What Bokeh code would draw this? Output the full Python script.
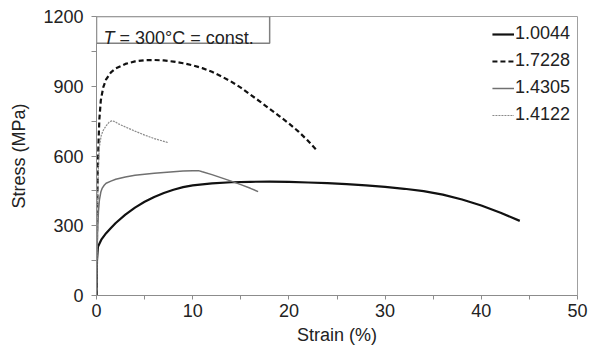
from bokeh.plotting import figure
from bokeh.models import Range1d, Legend, LegendItem, BoxAnnotation, Label, FixedTicker
from bokeh.embed import file_html
from bokeh.resources import INLINE

# ---- data ----
strain_10044 = [0, 0.05, 0.15, 0.5, 1.0, 1.5, 2.0, 3.0, 4.0, 5.0, 6.0, 7.0, 8.0, 9.0, 10, 12, 14, 16,
                18, 20, 22, 24, 26, 28, 30, 32, 34, 36, 38, 40, 42, 44]
stress_10044 = [0, 150, 210, 240, 268, 290, 312, 348, 378, 403, 424, 441, 455, 466, 474, 482, 487, 489,
                490, 489, 486, 483, 479, 474, 467, 459, 449, 434, 413, 387, 356, 321]

strain_17228 = [0, 0.05, 0.1, 0.2, 0.3, 0.45, 0.7, 1.0, 1.5, 2.0, 3.0, 4.0, 5.0, 6.0, 7.0, 8.0, 9.0,
                10, 11, 12, 13, 14, 15, 16, 17, 18, 19, 20, 21, 22, 23]
stress_17228 = [0, 250, 450, 650, 760, 840, 895, 930, 960, 977, 996, 1007, 1012, 1013, 1011, 1006, 999,
                990, 978, 962, 942, 920, 894, 864, 834, 803, 772, 740, 705, 665, 620]

strain_14305 = [0, 0.05, 0.1, 0.2, 0.3, 0.45, 0.6, 0.8, 1.0, 1.5, 2.0, 3.0, 4.0, 5.0, 6.0, 7.0, 8.0,
                9.0, 10.0, 10.6, 11.0, 12.0, 13.0, 14.0, 15.0, 16.0, 16.8]
stress_14305 = [0, 150, 260, 360, 410, 445, 462, 474, 483, 492, 500, 510, 517, 522, 526, 529, 532,
                535, 537, 537, 532, 520, 506, 492, 477, 461, 447]

strain_14122 = [0, 0.05, 0.1, 0.2, 0.3, 0.5, 0.7, 1.0, 1.3, 1.6, 1.9, 2.3, 3.0, 4.0, 5.0, 6.0, 7.0, 7.5]
stress_14122 = [0, 200, 380, 560, 640, 690, 710, 730, 745, 752, 748, 738, 725, 707, 690, 675, 663, 657]

series_names = ["1.0044", "1.7228", "1.4305", "1.4122"]
x_ticks = [0, 10, 20, 30, 40, 50]
y_ticks = [0, 300, 600, 900, 1200]

FONT = "Liberation Sans"
TXT = "#222222"
AX = "#8c8c8c"

p = figure(width=593, height=352, output_backend="svg", toolbar_location=None,
           x_range=Range1d(0, 50), y_range=Range1d(0, 1200),
           min_border_left=96, min_border_right=16, min_border_top=16, min_border_bottom=57)
p.grid.visible = False
p.outline_line_color = "#a0a0a0"
p.outline_line_width = 1
p.background_fill_color = "white"
p.border_fill_color = "white"

r1 = p.line(strain_10044, stress_10044, line_color="#111111", line_width=2.2)
r2 = p.line(strain_17228, stress_17228, line_color="#111111", line_width=2.2, line_dash="5 3")
r3 = p.line(strain_14305, stress_14305, line_color="#707070", line_width=1.5)
r4 = p.line(strain_14122, stress_14122, line_color="#8a8a8a", line_width=1.2, line_dash="2 1")

for ax in (p.xaxis[0], p.yaxis[0]):
    ax.axis_line_color = AX
    ax.major_tick_line_color = AX
    ax.minor_tick_line_color = AX
    ax.major_tick_in = 0
    ax.minor_tick_in = 0
    ax.major_label_text_font = FONT
    ax.major_label_text_font_size = "18px"
    ax.major_label_text_color = TXT
    ax.axis_label_text_font = FONT
    ax.axis_label_text_font_size = "18px"
    ax.axis_label_text_font_style = "normal"
    ax.axis_label_text_color = TXT

p.xaxis.ticker = FixedTicker(ticks=x_ticks, minor_ticks=[5, 15, 25, 35, 45])
p.yaxis.ticker = FixedTicker(ticks=y_ticks, minor_ticks=[150, 450, 750, 1050])
p.xaxis.major_tick_out = 4
p.xaxis.minor_tick_out = 4
p.yaxis.major_tick_out = 5
p.yaxis.minor_tick_out = 5
p.xaxis.major_label_standoff = 4
p.xaxis.axis_label_standoff = 5
p.yaxis.major_label_standoff = 8
p.yaxis.axis_label_standoff = 11
p.xaxis.axis_label = "Strain (%)"
p.yaxis.axis_label = "Stress (MPa)"

# annotation box
box = BoxAnnotation(left=0, right=18, bottom=1085, top=1200, fill_color="white", fill_alpha=1,
                    line_color="#808080", line_width=1.5, line_alpha=1)
p.add_layout(box)
p.add_layout(Label(x=0, y=1200, x_offset=7, y_offset=-21, text="T", text_font=FONT,
                   text_font_style="italic", text_font_size="18px", text_color=TXT,
                   text_baseline="alphabetic"))
p.add_layout(Label(x=0, y=1200, x_offset=23, y_offset=-21, text="= 300°C = const.", text_font=FONT,
                   text_font_size="18px", text_color=TXT, text_baseline="alphabetic"))

legend = Legend(items=[LegendItem(label=n, renderers=[r]) for n, r in zip(series_names, [r1, r2, r3, r4])],
                location="top_right", glyph_width=22, glyph_height=20, label_height=20,
                label_standoff=1, spacing=6, padding=0, margin=7,
                label_text_font=FONT, label_text_font_size="18px", label_text_color=TXT,
                background_fill_alpha=0, border_line_alpha=0)
p.add_layout(legend)

open("out.html", "w").write(file_html(p, INLINE))
